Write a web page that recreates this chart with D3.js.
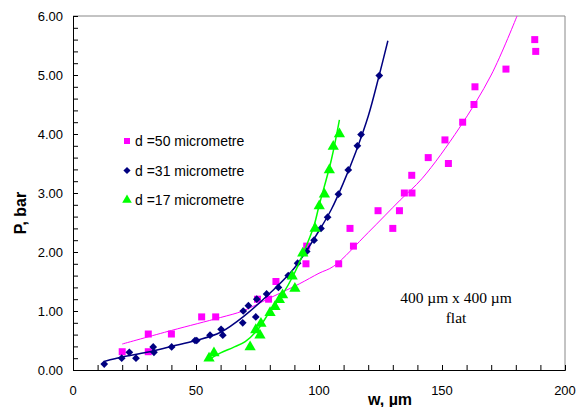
<!DOCTYPE html>
<html>
<head>
<meta charset="utf-8">
<script src="https://cdn.jsdelivr.net/npm/d3@7"></script>
<style>
body { margin: 0; background: #fff; }
text { font-family: "Liberation Sans", Arial, sans-serif; }
</style>
</head>
<body>
<div id="grafica"></div>
<script>
// puntos medidos
var d50x = [20, 30.6, 30.6, 40, 52.3, 58, 75, 79.5, 82.5, 94.7, 95, 108, 112.6, 114, 124, 130, 132.7, 134.7, 137.8, 137.7, 144.4, 151.2, 152.6, 158.4, 163, 163.4, 176, 187.7, 188.1];
var d50y = [0.31, 0.31, 0.61, 0.61, 0.9, 0.9, 1.2, 1.2, 1.5, 1.8, 2.1, 1.8, 2.4, 2.1, 2.7, 2.4, 2.7, 3.0, 3.0, 3.3, 3.6, 3.9, 3.5, 4.2, 4.5, 4.8, 5.1, 5.6, 5.4];
var d31x = [12.7, 19.8, 22.9, 25.6, 32.6, 32.9, 40.1, 49.6, 50.3, 55.7, 60.2, 60.9, 69, 69.2, 71.3, 74.3, 74.7, 78.7, 83.5, 87.5, 91.3, 95, 98, 100.8, 103.5, 107.9, 111.9, 115.6, 117.1, 124.5];
var d31y = [0.1, 0.2, 0.3, 0.2, 0.39, 0.3, 0.39, 0.5, 0.5, 0.59, 0.69, 0.59, 0.8, 1.0, 1.09, 0.9, 1.2, 1.29, 1.4, 1.6, 1.81, 2.01, 2.2, 2.4, 2.59, 2.98, 3.39, 3.8, 3.99, 4.99];
var d17x = [55.3, 57.3, 72, 74.3, 76, 76.4, 80.1, 82.1, 83.9, 85.2, 89.1, 90.2, 93.4, 98.4, 100.1, 102.2, 104.2, 105.8, 108.3];
var d17y = [0.2, 0.29, 0.39, 0.68, 0.59, 0.79, 0.97, 1.07, 1.19, 1.27, 1.59, 1.38, 1.98, 2.4, 2.78, 2.98, 3.39, 3.79, 4.0];

// lineas de tendencia
var f50x = [20, 40, 60, 69, 80, 92, 100, 106, 120, 133, 142, 157, 170, 180.5];
var f50y = [0.44, 0.67, 0.89, 1.0, 1.22, 1.46, 1.64, 1.76, 2.33, 2.88, 3.25, 4.1, 5.0, 6.0];
var f31x = [13, 20, 30, 40, 50, 60, 70, 80, 90, 100, 105, 110, 115, 120, 124.5, 128];
var f31y = [0.15, 0.22, 0.3, 0.4, 0.5, 0.64, 0.93, 1.3, 1.73, 2.36, 2.72, 3.18, 3.7, 4.3, 5.0, 5.58];
var f17x = [55, 60, 65, 70, 75, 80, 85, 90, 95, 98, 100, 105, 108.3];
var f17y = [0.17, 0.29, 0.38, 0.48, 0.68, 0.99, 1.27, 1.64, 2.12, 2.45, 2.78, 3.56, 4.24];

var xTicks = [0, 50, 100, 150, 200];
var yTicks = [0, 1, 2, 3, 4, 5, 6];
var etiquetas = ["d =50 micrometre", "d =31 micrometre", "d =17 micrometre"];

var svg = d3.select("#grafica").append("svg")
	.attr("width", 582)
	.attr("height", 407);

var x = d3.scaleLinear().domain([0, 200]).range([73, 565]);
var y = d3.scaleLinear().domain([0, 6]).range([370, 16]);

// marco gris arriba y derecha
svg.append("path")
	.attr("d", "M" + x(0) + "," + y(6) + "H" + x(200) + "V" + y(0))
	.attr("fill", "none")
	.attr("stroke", "#888")
	.attr("stroke-width", 1);

// ejes
var ejeX = svg.append("g")
	.attr("transform", "translate(0," + y(0) + ")")
	.call(d3.axisBottom(x).ticks(20).tickSize(-5).tickFormat(""));
ejeX.select(".domain").attr("stroke", "#000");
svg.append("g").selectAll("text").data(xTicks).enter().append("text")
	.attr("x", function(d) { return x(d); })
	.attr("y", 395)
	.attr("text-anchor", "middle")
	.attr("font-size", 13)
	.text(function(d) { return d; });

var ejeY = svg.append("g")
	.attr("transform", "translate(" + x(0) + ",0)")
	.call(d3.axisLeft(y).ticks(30).tickSize(-5).tickFormat(""));
svg.append("g").selectAll("text").data(yTicks).enter().append("text")
	.attr("x", 63)
	.attr("y", function(d) { return y(d) + 4.5; })
	.attr("text-anchor", "end")
	.attr("font-size", 13)
	.text(function(d) { return d.toFixed(2); });

svg.append("text")
	.attr("transform", "translate(26,213) rotate(-90)")
	.attr("text-anchor", "middle")
	.attr("font-size", 16)
	.attr("font-weight", "bold")
	.text("P, bar");
svg.append("text")
	.attr("x", 390)
	.attr("y", 405)
	.attr("text-anchor", "middle")
	.attr("font-size", 16)
	.attr("font-weight", "bold")
	.text("w, µm");

var linea = d3.line()
	.x(function(d) { return x(d[0]); })
	.y(function(d) { return y(d[1]); })
	.curve(d3.curveCatmullRom);

function serie(xs, ys, fx, fy, color, ancho, forma) {
	svg.append("path")
		.datum(d3.zip(fx, fy))
		.attr("d", linea)
		.attr("fill", "none")
		.attr("stroke", color)
		.attr("stroke-width", ancho);
	svg.append("g").selectAll("path").data(d3.zip(xs, ys)).enter().append("path")
		.attr("d", d3.symbol().type(forma.tipo).size(forma.size))
		.attr("transform", function(d) { return "translate(" + x(d[0]) + "," + y(d[1]) + ")" + (forma.rot ? " rotate(45)" : ""); })
		.attr("fill", color);
}

serie(d50x, d50y, f50x, f50y, "#ff00ff", 1, { tipo: d3.symbolSquare, size: 49 });
serie(d31x, d31y, f31x, f31y, "#000080", 1.5, { tipo: d3.symbolSquare, size: 30, rot: true });
serie(d17x, d17y, f17x, f17y, "#00ff00", 1.5, { tipo: d3.symbolTriangle, size: 55 });

// leyenda
var formas = [
	{ tipo: d3.symbolSquare, size: 36, color: "#ff00ff" },
	{ tipo: d3.symbolSquare, size: 26, color: "#000080", rot: true },
	{ tipo: d3.symbolTriangle, size: 40, color: "#00ff00" }
];
var leyenda = svg.append("g");
etiquetas.forEach(function(t, i) {
	var ly = 141 + i * 29.5;
	leyenda.append("path")
		.attr("d", d3.symbol().type(formas[i].tipo).size(formas[i].size))
		.attr("transform", "translate(127," + ly + ")" + (formas[i].rot ? " rotate(45)" : ""))
		.attr("fill", formas[i].color);
	leyenda.append("text")
		.attr("x", 135)
		.attr("y", ly + 5)
		.attr("font-size", 14)
		.text(t);
});

svg.append("text")
	.attr("x", 456)
	.attr("y", 303)
	.attr("text-anchor", "middle")
	.attr("font-size", 15.5)
	.style("font-family", "'Liberation Serif', 'Times New Roman', serif")
	.text("400 µm x 400 µm");
svg.append("text")
	.attr("x", 456)
	.attr("y", 323)
	.attr("text-anchor", "middle")
	.attr("font-size", 15.5)
	.style("font-family", "'Liberation Serif', 'Times New Roman', serif")
	.text("flat");
</script>
</body>
</html>
